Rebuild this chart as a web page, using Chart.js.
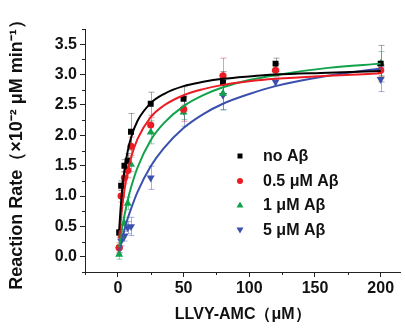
<!DOCTYPE html>
<html>
<head>
<meta charset="utf-8">
<script src="https://cdn.jsdelivr.net/npm/chart.js@4/dist/chart.umd.min.js"></script>
<style>
  html, body { margin: 0; padding: 0; background: #fff; }
  #wrap { width: 405px; height: 328px; }
</style>
</head>
<body>
<div id="wrap"><canvas id="chart" width="405" height="328"></canvas></div>
<script>
// measured substrate concentrations (uM)
const substrate = [1, 2.5, 5, 7.5, 10, 25, 50, 80, 120, 200];

// reaction rate (x10^-2 uM/min), one array per condition
const rateNoAb = [0.40, 1.17, 1.50, 1.58, 2.06, 2.52, 2.60, 2.87, 3.18, 3.18];
const rateAb05 = [0.15, 1.00, 1.30, 1.42, 1.82, 2.17, 2.43, 2.98, 3.07, 3.07];
const rateAb1 = [0.04, 0.35, 0.55, 0.88, 1.52, 2.05, 2.38, 2.69, 3.08, 3.18];
const rateAb5 = [0.12, 0.26, 0.34, 0.48, 0.50, 1.30, 2.40, 2.66, 2.88, 2.92];

// error bar half-heights
const errNoAb = [0.05, 0.08, 0.10, 0.12, 0.30, 0.19, 0.20, 0.18, 0.09, 0.30];
const errAb05 = [0.08, 0.10, 0.10, 0.12, 0.15, 0.12, 0.20, 0.29, 0.10, 0.10];
const errAb1 = [0.08, 0.10, 0.10, 0.10, 0.12, 0.19, 0.12, 0.27, 0.10, 0.20];
const errAb5 = [0.06, 0.08, 0.08, 0.10, 0.15, 0.19, 0.25, 0.24, 0.06, 0.20];

// fitted curves
const fitX = [1, 2, 3.5, 5, 7.5, 10, 15, 25, 35, 50, 65, 80, 100, 120, 160, 200];
const fitNoAb = [0.44, 0.77, 1.15, 1.42, 1.74, 1.96, 2.24, 2.53, 2.68, 2.81, 2.88, 2.93, 2.97, 3.00, 3.03, 3.06];
const fitAb05 = [0.30, 0.55, 0.86, 1.10, 1.40, 1.63, 1.94, 2.30, 2.49, 2.66, 2.76, 2.83, 2.89, 2.93, 2.98, 3.02];
const fitAb1 = [0.16, 0.31, 0.51, 0.68, 0.93, 1.14, 1.47, 1.92, 2.20, 2.48, 2.66, 2.79, 2.91, 2.99, 3.11, 3.18];
const fitAb5 = [0.10, 0.19, 0.32, 0.44, 0.63, 0.79, 1.07, 1.49, 1.79, 2.12, 2.35, 2.52, 2.68, 2.81, 2.98, 3.10];

const seriesLabels = ["no A\u03b2", "0.5 \u03bcM A\u03b2", "1 \u03bcM A\u03b2", "5 \u03bcM A\u03b2"];
const xTicks = [0, 50, 100, 150, 200];
const yTicks = [0, 0.5, 1, 1.5, 2, 2.5, 3, 3.5];

const colors = ["#000000", "#ec1c24", "#11a24b", "#3b50ad"];
const errColors = ["rgba(0,0,0,0.35)", "rgba(236,28,36,0.45)", "rgba(17,162,75,0.45)", "rgba(59,80,173,0.45)"];
const markers = [
  { style: "rect", radius: 4.2, rotation: 0 },
  { style: "circle", radius: 3.6, rotation: 0 },
  { style: "triangle", radius: 4.6, rotation: 0 },
  { style: "triangle", radius: 4.6, rotation: 180 },
];

const toPoints = (xs, ys) => xs.map((x, i) => ({ x, y: ys[i] }));

const rates = [rateNoAb, rateAb05, rateAb1, rateAb5];
const errs = [errNoAb, errAb05, errAb1, errAb5];
const fits = [fitNoAb, fitAb05, fitAb1, fitAb5];

const datasets = [];
fits.forEach((fit, i) => {
  datasets.push({
    type: "line",
    data: toPoints(fitX, fit),
    borderColor: colors[i],
    borderWidth: 2,
    pointRadius: 0,
    fill: false,
    cubicInterpolationMode: "monotone",
    isFit: true,
  });
});
rates.forEach((r, i) => {
  datasets.push({
    type: "scatter",
    label: seriesLabels[i],
    data: toPoints(substrate, r),
    errors: errs[i],
    errColor: errColors[i],
    backgroundColor: colors[i],
    borderColor: colors[i],
    borderWidth: 0,
    pointStyle: markers[i].style,
    pointRadius: markers[i].radius,
    pointRotation: markers[i].rotation,
    pointHoverRadius: markers[i].radius,
  });
});

// vertical error bars with caps
const errorBars = {
  id: "errorBars",
  beforeDatasetsDraw(chart) {
    const { ctx } = chart;
    const xs = chart.scales.x;
    const ys = chart.scales.y;
    chart.data.datasets.forEach((ds) => {
      if (!ds.errors) return;
      ctx.save();
      ctx.strokeStyle = ds.errColor;
      ctx.lineWidth = 1;
      ds.data.forEach((p, i) => {
        const px = Math.round(xs.getPixelForValue(p.x)) + 0.5;
        const top = ys.getPixelForValue(p.y + ds.errors[i]);
        const bot = ys.getPixelForValue(p.y - ds.errors[i]);
        ctx.beginPath();
        ctx.moveTo(px, top);
        ctx.lineTo(px, bot);
        ctx.moveTo(px - 3, top);
        ctx.lineTo(px + 3, top);
        ctx.moveTo(px - 3, bot);
        ctx.lineTo(px + 3, bot);
        ctx.stroke();
      });
      ctx.restore();
    });
  },
};

// short minor ticks between the labelled ones
const minorTicks = {
  id: "minorTicks",
  afterDraw(chart) {
    const { ctx, chartArea } = chart;
    const xs = chart.scales.x;
    const ys = chart.scales.y;
    ctx.save();
    ctx.strokeStyle = "#222";
    ctx.lineWidth = 1;
    ctx.beginPath();
    [-25, 25, 75, 125, 175].forEach((v) => {
      const px = Math.round(xs.getPixelForValue(v)) + 0.5;
      ctx.moveTo(px, chartArea.bottom);
      ctx.lineTo(px, chartArea.bottom + 3);
    });
    [-0.25, 0.25, 0.75, 1.25, 1.75, 2.25, 2.75, 3.25, 3.75].forEach((v) => {
      const py = Math.round(ys.getPixelForValue(v)) + 0.5;
      ctx.moveTo(chartArea.left, py);
      ctx.lineTo(chartArea.left - 3, py);
    });
    ctx.stroke();
    ctx.restore();
  },
};

// legend inside the plot, marker + bold label
const innerLegend = {
  id: "innerLegend",
  afterDraw(chart) {
    const { ctx } = chart;
    const rows = [156, 181, 205, 230];
    ctx.save();
    ctx.font = "bold 16px 'Liberation Sans', Arial, sans-serif";
    ctx.textBaseline = "middle";
    seriesLabels.forEach((label, i) => {
      const y = rows[i];
      const x = 240;
      ctx.fillStyle = colors[i];
      ctx.beginPath();
      if (i === 0) {
        ctx.rect(x - 2.5, y - 2.5, 5, 5);
      } else if (i === 1) {
        ctx.arc(x, y, 3, 0, Math.PI * 2);
      } else if (i === 2) {
        ctx.moveTo(x, y - 3.5);
        ctx.lineTo(x + 3.5, y + 2.5);
        ctx.lineTo(x - 3.5, y + 2.5);
        ctx.closePath();
      } else {
        ctx.moveTo(x, y + 3.5);
        ctx.lineTo(x + 3.5, y - 2.5);
        ctx.lineTo(x - 3.5, y - 2.5);
        ctx.closePath();
      }
      ctx.fill();
      ctx.fillStyle = "#111";
      ctx.fillText(label, 263, y + 1);
    });
    ctx.restore();
  },
};

const tickFont = { family: "'Liberation Sans', Arial, sans-serif", size: 16, weight: "bold" };

new Chart(document.getElementById("chart"), {
  type: "scatter",
  data: { datasets },
  options: {
    responsive: false,
    animation: false,
    devicePixelRatio: 1,
    layout: { padding: { top: 29, right: 4, left: 0, bottom: 0 } },
    plugins: {
      legend: { display: false },
      tooltip: { enabled: false },
    },
    scales: {
      x: {
        type: "linear",
        min: -25,
        max: 215,
        afterBuildTicks: (scale) => {
          scale.ticks = xTicks.map((v) => ({ value: v }));
        },
        afterFit: (scale) => {
          scale.height = 56;
        },
        grid: { drawOnChartArea: false, drawTicks: true, tickLength: 5, color: "#222" },
        border: { display: true, color: "#222", width: 1 },
        ticks: { color: "#111", font: tickFont, padding: 2, maxRotation: 0 },
        title: {
          display: true,
          text: "LLVY-AMC\uff08\u03bcM\uff09",
          color: "#111",
          font: { family: "'Liberation Sans', Arial, sans-serif", size: 16, weight: "bold" },
          padding: { top: 0, bottom: 4 },
        },
      },
      y: {
        type: "linear",
        min: -0.25,
        max: 3.75,
        afterBuildTicks: (scale) => {
          scale.ticks = yTicks.map((v) => ({ value: v }));
        },
        afterFit: (scale) => {
          scale.width = 85;
        },
        grid: { drawOnChartArea: false, drawTicks: true, tickLength: 5, color: "#222" },
        border: { display: true, color: "#222", width: 1 },
        ticks: {
          color: "#111",
          font: tickFont,
          padding: 3,
          callback: (v) => v.toFixed(1),
        },
        title: {
          display: true,
          text: "Reaction Rate\uff08\u00d710\u207b\u00b2 \u03bcM min\u207b\u00b9\uff09",
          color: "#111",
          font: { family: "'Liberation Sans', Arial, sans-serif", size: 18, weight: "bold" },
          padding: { top: 6, bottom: 0 },
        },
      },
    },
  },
  plugins: [errorBars, minorTicks, innerLegend],
});
</script>
</body>
</html>
